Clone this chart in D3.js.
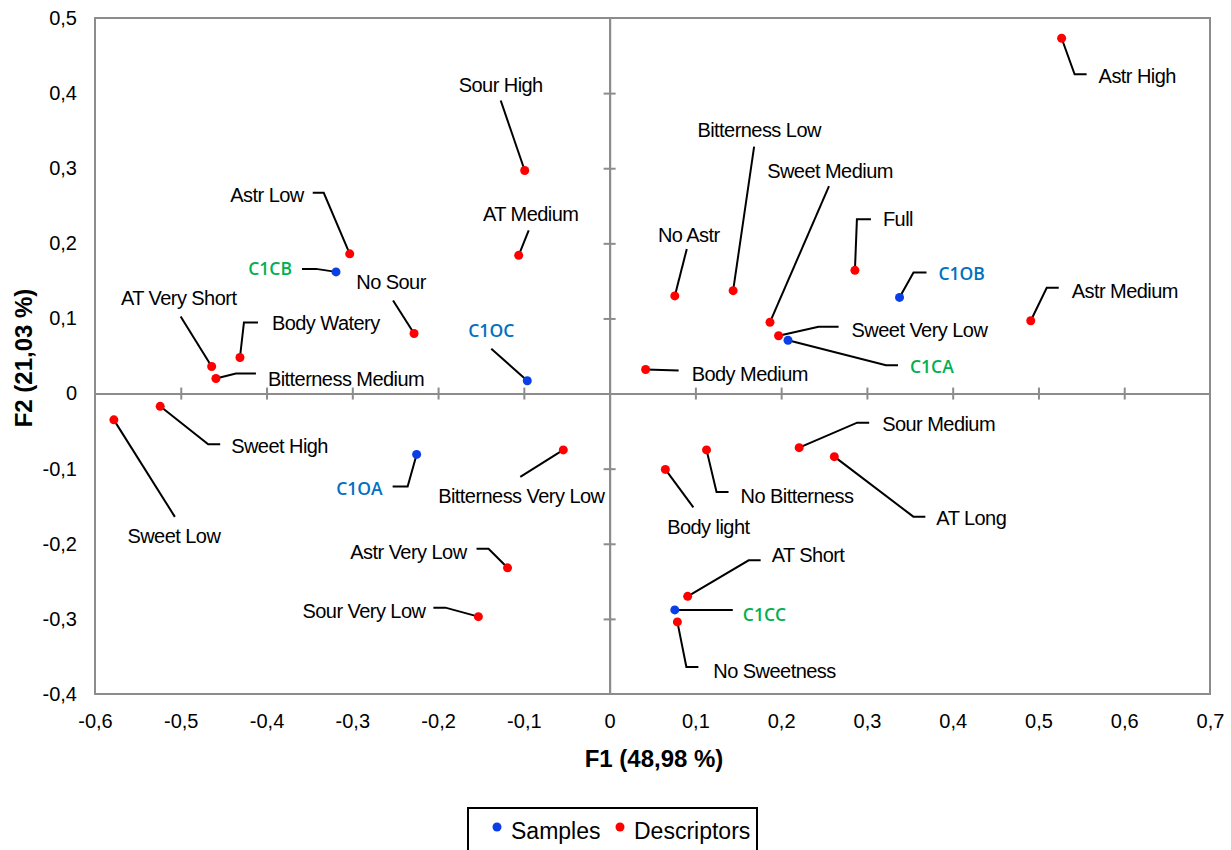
<!DOCTYPE html>
<html><head><meta charset="utf-8">
<script src="https://cdnjs.cloudflare.com/ajax/libs/d3/7.8.5/d3.min.js"></script>
<style>body{margin:0;background:#fff}</style>
</head><body>
<script>
// ---- data ----
const xTicks = [-0.6,-0.5,-0.4,-0.3,-0.2,-0.1,0,0.1,0.2,0.3,0.4,0.5,0.6,0.7];
const yTicks = [-0.4,-0.3,-0.2,-0.1,0,0.1,0.2,0.3,0.4,0.5];
const xTitle = "F1 (48,98 %)";
const yTitle = "F2 (21,03 %)";
const legendNames = ["Samples","Descriptors"];

const descNames = ["Astr High","Sour High","AT Medium","Astr Low","No Sour","Body Watery","AT Very Short","Bitterness Medium","Sweet High","Sweet Low","Bitterness Very Low","Astr Very Low","Sour Very Low","No Astr","Bitterness Low","Sweet Medium","Sweet Very Low","Full","Astr Medium","Body Medium","Sour Medium","AT Long","No Bitterness","Body light","AT Short","No Sweetness"];
const descF1 = [0.527,-0.099,-0.106,-0.303,-0.228,-0.431,-0.464,-0.459,-0.524,-0.578,-0.054,-0.119,-0.153,0.076,0.144,0.187,0.197,0.286,0.491,0.042,0.221,0.262,0.113,0.065,0.091,0.079];
const descF2 = [0.473,0.297,0.184,0.186,0.080,0.048,0.036,0.020,-0.017,-0.035,-0.075,-0.232,-0.297,0.130,0.137,0.095,0.077,0.164,0.097,0.032,-0.072,-0.084,-0.075,-0.101,-0.270,-0.304];

const sampleNames = ["C1CB","C1OC","C1OB","C1CA","C1OA","C1CC"];
const sampleF1 = [-0.319,-0.096,0.338,0.208,-0.225,0.076];
const sampleF2 = [0.162,0.017,0.128,0.071,-0.081,-0.288];
const sampleGroup = ["C","O","O","C","O","C"];

// ---- layout (label leader offsets in px, relative to the point) ----
const labelLayout = {
 "Astr High":{p:[[13,36],[25,36]],t:[37,38,"start"]},
 "Sour High":{p:[[-24,-70]],t:[-24,-85,"middle"]},
 "AT Medium":{p:[[10,-25]],t:[12,-41,"middle"]},
 "Astr Low":{p:[[-26,-61],[-37,-61]],t:[-46,-59,"end"]},
 "C1CB":{p:[[-20,-3],[-34,-3]],t:[-44,-3,"end"]},
 "No Sour":{p:[[-21,-33]],t:[-23,-51,"middle"]},
 "AT Very Short":{p:[[-31,-50]],t:[-33,-69,"middle"]},
 "Body Watery":{p:[[4,-35],[18,-35]],t:[32,-35,"start"]},
 "Bitterness Medium":{p:[[20,-5],[40,-5]],t:[52,0,"start"]},
 "Sweet High":{p:[[48,38],[60,38]],t:[71,40,"start"]},
 "Sweet Low":{p:[[61,97]],t:[60,116,"middle"]},
 "C1OA":{p:[[-9,32],[-24,32]],t:[-34,34,"end"]},
 "Bitterness Very Low":{p:[[-43,27]],t:[-42,46,"middle"]},
 "Astr Very Low":{p:[[-19,-19],[-31,-19]],t:[-41,-16,"end"]},
 "Sour Very Low":{p:[[-33,-9],[-45,-9]],t:[-53,-6,"end"]},
 "C1OC":{p:[[-36,-32]],t:[-36,-50,"middle"]},
 "No Astr":{p:[[12,-47]],t:[14,-61,"middle"]},
 "Bitterness Low":{p:[[21,-144]],t:[26,-161,"middle"]},
 "Sweet Medium":{p:[[59,-136]],t:[60,-151,"middle"]},
 "Full":{p:[[2,-51],[16,-51]],t:[28,-51,"start"]},
 "C1OB":{p:[[14,-25],[27,-25]],t:[39,-24,"start"]},
 "Astr Medium":{p:[[16,-33],[28,-33]],t:[41,-30,"start"]},
 "Sweet Very Low":{p:[[40,-9],[60,-9]],t:[73,-6,"start"]},
 "C1CA":{p:[[98,25],[110,25]],t:[122,27,"start"]},
 "Body Medium":{p:[[33,1]],t:[46,4,"start"]},
 "Sour Medium":{p:[[58,-25],[70,-25]],t:[83,-24,"start"]},
 "AT Long":{p:[[79,60],[91,60]],t:[102,61,"start"]},
 "No Bitterness":{p:[[10,42],[22,42]],t:[34,46,"start"]},
 "Body light":{p:[[28,38]],t:[43,58,"middle"]},
 "AT Short":{p:[[61,-36],[73,-36]],t:[84,-41,"start"]},
 "C1CC":{p:[[58,0]],t:[68,5,"start"]},
 "No Sweetness":{p:[[9,45],[21,45]],t:[36,49,"start"]}
};

const W=1231,H=850;
const svg=d3.select("body").append("svg").attr("width",W).attr("height",H);
const x=d3.scaleLinear().domain([-0.6,0.7]).range([95,1210]);
const y=d3.scaleLinear().domain([-0.4,0.5]).range([694,18]);
const fmt=d=>{const s=d3.format(".1f")(d).replace("−","-").replace(".",",");return (s==="0,0"||s==="-0,0")?"0":s;};
const axisColor="#8c8c8c";
const font="'Liberation Sans', Arial, sans-serif";

// plot frame
svg.append("rect").attr("x",95).attr("y",18).attr("width",1115).attr("height",676)
  .attr("fill","none").attr("stroke",axisColor).attr("stroke-width",2);

// zero axes with cross ticks
const innerX=xTicks.filter(t=>t>-0.6&&t<0.7&&t!==0);
const innerY=yTicks.filter(t=>t>-0.4&&t<0.5&&t!==0);
const gx=svg.append("g").attr("transform",`translate(0,${y(0)})`)
  .call(d3.axisBottom(x).tickValues(innerX).tickSize(6).tickSizeOuter(0).tickFormat(""));
const gx2=svg.append("g").attr("transform",`translate(0,${y(0)})`)
  .call(d3.axisTop(x).tickValues(innerX).tickSize(6).tickSizeOuter(0).tickFormat(""));
const gy=svg.append("g").attr("transform",`translate(${x(0)},0)`)
  .call(d3.axisLeft(y).tickValues(innerY).tickSize(6).tickSizeOuter(0).tickFormat(""));
const gy2=svg.append("g").attr("transform",`translate(${x(0)},0)`)
  .call(d3.axisRight(y).tickValues(innerY).tickSize(6).tickSizeOuter(0).tickFormat(""));
[gx,gx2,gy,gy2].forEach(g=>{g.selectAll("path").attr("stroke",axisColor).attr("stroke-width",2);g.selectAll("line").attr("stroke",axisColor).attr("stroke-width",2);});

// outer tick labels
const bx=svg.append("g").attr("transform",`translate(0,694)`)
  .call(d3.axisBottom(x).tickValues(xTicks).tickSize(0).tickPadding(20).tickFormat(fmt));
bx.select(".domain").remove();
bx.selectAll("text").attr("font-family",font).attr("font-size",20).attr("fill","#000");
const ly=svg.append("g").attr("transform",`translate(95,0)`)
  .call(d3.axisLeft(y).tickValues(yTicks).tickSize(0).tickPadding(18).tickFormat(fmt));
ly.select(".domain").remove();
ly.selectAll("text").attr("font-family",font).attr("font-size",20).attr("fill","#000");

// titles
svg.append("text").attr("x",654).attr("y",767).attr("text-anchor","middle")
  .attr("font-family",font).attr("font-size",24).attr("font-weight","bold").text(xTitle);
svg.append("text").attr("transform",`translate(32,358) rotate(-90)`).attr("text-anchor","middle")
  .attr("font-family",font).attr("font-size",24).attr("font-weight","bold").text(yTitle);

// build points
const desc=descNames.map((n,i)=>({name:n,f1:descF1[i],f2:descF2[i],type:"d"}));
const samp=sampleNames.map((n,i)=>({name:n,f1:sampleF1[i],f2:sampleF2[i],type:"s",g:sampleGroup[i]}));
const all=desc.concat(samp);

// leader lines
svg.append("g").selectAll("path").data(all).join("path")
  .attr("d",d=>{const px=x(d.f1),py=y(d.f2);const L=labelLayout[d.name];
     return d3.line()([[px,py]].concat(L.p.map(q=>[px+q[0],py+q[1]])));})
  .attr("fill","none").attr("stroke","#000").attr("stroke-width",2);

// labels
svg.append("g").selectAll("text").data(all).join("text")
  .attr("x",d=>x(d.f1)+labelLayout[d.name].t[0])
  .attr("y",d=>y(d.f2)+labelLayout[d.name].t[1])
  .attr("dy","0.35em")
  .attr("text-anchor",d=>labelLayout[d.name].t[2])
  .attr("font-family",d=>d.type==="s"?"'Open Sans', sans-serif":font)
  .attr("font-weight",d=>d.type==="s"?"600":"normal")
  .attr("font-size",d=>d.type==="s"?17.5:20)
  .attr("letter-spacing",d=>d.type==="s"?0:-0.55)
  .attr("fill",d=>d.type==="s"?(d.g==="C"?"#00b050":"#0070c0"):"#000")
  .text(d=>d.name);

// points
svg.append("g").selectAll("circle").data(all).join("circle")
  .attr("cx",d=>x(d.f1)).attr("cy",d=>y(d.f2)).attr("r",4.5)
  .attr("fill",d=>d.type==="s"?"#0a3ee6":"#ff0000");

// legend
const lg=svg.append("g");
lg.append("rect").attr("x",468).attr("y",808).attr("width",289).attr("height",60)
  .attr("fill","#fff").attr("stroke","#000").attr("stroke-width",2);
const legendColors=["#0a3ee6","#ff0000"];
const legendX=[497,620];
legendNames.forEach((n,i)=>{
  lg.append("circle").attr("cx",legendX[i]).attr("cy",827).attr("r",4.5).attr("fill",legendColors[i]);
  lg.append("text").attr("x",legendX[i]+14).attr("y",831).attr("dy","0.35em")
    .attr("font-family",font).attr("font-size",23).text(n);
});
</script>
</body></html>
